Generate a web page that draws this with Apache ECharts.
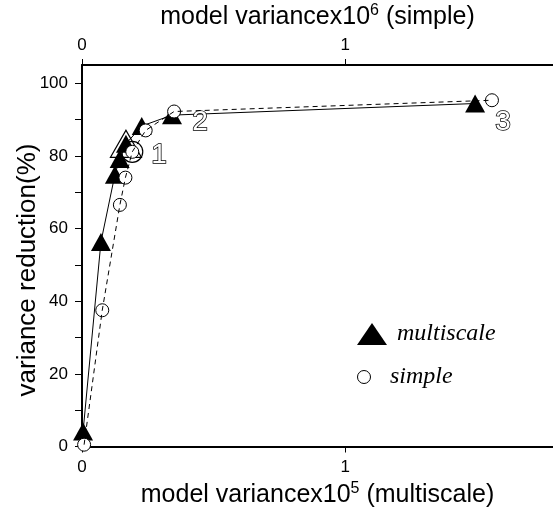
<!DOCTYPE html>
<html><head><meta charset="utf-8">
<script src="https://cdn.jsdelivr.net/npm/echarts@6/dist/echarts.min.js"></script>
<style>html,body{margin:0;padding:0;background:#fff}#c{width:553px;height:508px}</style>
</head><body><div id="c"></div>
<script>
// multiscale: bottom axis (model variance x10^5)
const multiX = [0.004, 0.072, 0.125, 0.143, 0.167, 0.227, 0.342, 1.494];
const multiY = [4.1, 56.3, 74.8, 79.1, 83.3, 88.2, 91.2, 94.4];
// simple: top axis (model variance x10^6)
const simpleX = [0.008, 0.077, 0.144, 0.165, 0.191, 0.242, 0.350, 1.558];
const simpleY = [0.5, 37.5, 66.5, 74.0, 81.1, 87.0, 92.2, 95.3];
const modelLabels = ['', '', '', '', '1', '', '2', '3'];
const highlightIndex = 4;
const xTicks = [0, 1];
const yTicks = [0, 10, 20, 30, 40, 50, 60, 70, 80, 90, 100];
const yTickLabels = [0, 20, 40, 60, 80, 100];
const yTitle = 'variance reduction(%)';

const SANS = 'Liberation Sans, Arial, Helvetica, sans-serif';
const SERIF = 'Liberation Serif, Times New Roman, serif';
const labelOffsets = {4: [33, 11], 6: [28, 7], 7: [28, 19]};

const multiPts = multiX.map((x, i) => [x, multiY[i]]);
const simplePts = simpleX.map((x, i) => [x, simpleY[i]]);
const multiItems = multiPts.map((p, i) => {
  const item = {value: p};
  if (modelLabels[i]) {
    item.label = {show: true, formatter: modelLabels[i], position: 'inside', offset: labelOffsets[i] || [28, 8]};
  }
  return item;
});

const axisLineStyle = {color: '#000', width: 2};
const tickLabel = {color: '#000', fontSize: 17, fontFamily: SANS};
const supStyle = {fontSize: 16, fontFamily: SANS, color: '#000', verticalAlign: 'top', lineHeight: 16};

const chart = echarts.init(document.getElementById('c'));
chart.setOption({
  animation: false,
  backgroundColor: '#fff',
  grid: {left: 82, right: 0, top: 65, bottom: 61.5, containLabel: false, outerBoundsMode: 'none'},
  xAxis: [
    {
      type: 'value', position: 'bottom', min: 0, max: 1.79,
      axisLine: {show: true, onZero: false, lineStyle: axisLineStyle},
      axisTick: {show: true, customValues: xTicks, length: 6, lineStyle: {color: '#000', width: 1}},
      axisLabel: Object.assign({customValues: xTicks, margin: 12}, tickLabel),
      splitLine: {show: false},
      name: 'model variancex10{sup|5} (multiscale)',
      nameLocation: 'middle', nameGap: 27,
      nameTextStyle: {fontSize: 25, fontFamily: SANS, color: '#000', lineHeight: 30, rich: {sup: supStyle}}
    },
    {
      type: 'value', position: 'top', min: 0, max: 1.79,
      axisLine: {show: true, onZero: false, lineStyle: axisLineStyle},
      axisTick: {show: true, customValues: xTicks, length: 6, lineStyle: {color: '#000', width: 1}},
      axisLabel: Object.assign({customValues: xTicks, margin: 11}, tickLabel),
      splitLine: {show: false},
      name: 'model variancex10{sup|6} (simple)',
      nameLocation: 'middle', nameGap: 30,
      nameTextStyle: {fontSize: 25, fontFamily: SANS, color: '#000', lineHeight: 30, rich: {sup: supStyle}}
    }
  ],
  yAxis: {
    type: 'value', min: 0, max: 105,
    axisLine: {show: true, onZero: false, lineStyle: axisLineStyle},
    axisTick: {show: true, customValues: yTicks, length: 7, lineStyle: {color: '#000', width: 1}},
    axisLabel: Object.assign({customValues: yTickLabels, margin: 14}, tickLabel),
    splitLine: {show: false}
  },
  graphic: [{
    type: 'text', x: 28, y: 270, rotation: Math.PI / 2,
    style: {text: yTitle, fontSize: 26, fontFamily: SANS, fill: '#000', align: 'center', verticalAlign: 'middle'}
  }],
  legend: [
    {
      data: [{name: 'multiscale', icon: 'triangle', itemStyle: {color: '#000', borderWidth: 0, opacity: 1}}],
      left: 357, top: 322, padding: 0, itemWidth: 30, itemHeight: 22,
      textStyle: {fontFamily: SERIF, fontStyle: 'italic', fontSize: 24, color: '#000', padding: [0, 0, 0, 5]},
      selectedMode: false
    },
    {
      data: [{name: 'simple', icon: 'circle', itemStyle: {color: '#fff', borderColor: '#000', borderWidth: 1, opacity: 1}}],
      left: 357, top: 365, padding: 0, itemWidth: 30, itemHeight: 13,
      textStyle: {fontFamily: SERIF, fontStyle: 'italic', fontSize: 24, color: '#000', padding: [0, 0, 0, 6]},
      selectedMode: false
    }
  ],
  series: [
    {
      name: 'multiscale-line', type: 'line', xAxisIndex: 0, data: multiPts,
      showSymbol: false, symbol: 'none', lineStyle: {color: '#000', width: 1}, z: 2, silent: true
    },
    {
      name: 'multiscale', type: 'scatter', xAxisIndex: 0, data: multiItems,
      symbol: 'triangle', symbolSize: [20, 18], itemStyle: {color: '#000', opacity: 1}, z: 3, silent: true,
      label: {show: false, color: '#fff', fontSize: 28, fontFamily: SANS, textBorderColor: '#000', textBorderWidth: 1.5, opacity: 1}
    },
    {
      name: 'multiscale-highlight', type: 'scatter', xAxisIndex: 0,
      data: [multiPts[highlightIndex]],
      symbol: 'triangle', symbolSize: [31, 27],
      itemStyle: {color: 'rgba(0,0,0,0)', borderColor: '#000', borderWidth: 1.2, opacity: 1}, z: 4, silent: true
    },
    {
      name: 'simple', type: 'scatter', xAxisIndex: 1, data: simplePts,
      symbol: 'circle', symbolSize: 13,
      itemStyle: {color: '#fff', borderColor: '#000', borderWidth: 1, opacity: 1}, z: 5, silent: true
    },
    {
      name: 'simple-line', type: 'line', xAxisIndex: 1, data: simplePts,
      showSymbol: false, symbol: 'none', lineStyle: {color: '#000', width: 1, type: [5, 4]}, z: 6, silent: true
    },
    {
      name: 'simple-highlight', type: 'scatter', xAxisIndex: 1,
      data: [simplePts[highlightIndex]],
      symbol: 'circle', symbolSize: 21,
      itemStyle: {color: 'rgba(0,0,0,0)', borderColor: '#000', borderWidth: 1.2, opacity: 1}, z: 7, silent: true
    }
  ]
});
</script></body></html>
